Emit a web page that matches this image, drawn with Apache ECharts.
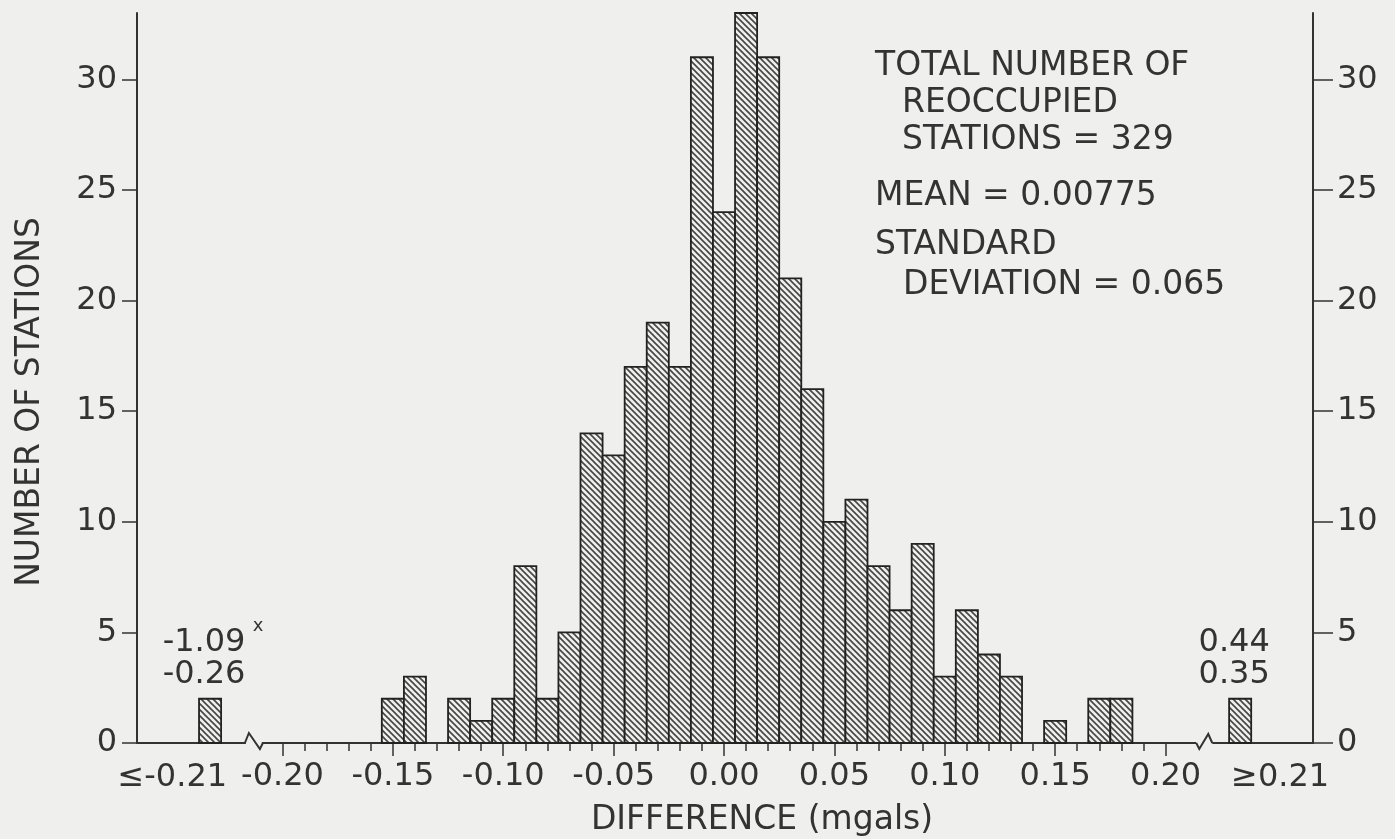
<!DOCTYPE html>
<html>
<head>
<meta charset="utf-8">
<script src="https://cdn.jsdelivr.net/npm/echarts@6.0.0/dist/echarts.min.js"></script>
<style>
  html, body { margin: 0; padding: 0; background: #efefed; }
  #chart { width: 1395px; height: 839px; }
</style>
</head>
<body>
<div id="chart"></div>
<script>
// ---------- data ----------
const bins = [-0.20,-0.19,-0.18,-0.17,-0.16,-0.15,-0.14,-0.13,-0.12,-0.11,-0.10,-0.09,-0.08,-0.07,-0.06,-0.05,-0.04,-0.03,-0.02,-0.01,
  0.00,0.01,0.02,0.03,0.04,0.05,0.06,0.07,0.08,0.09,0.10,0.11,0.12,0.13,0.14,0.15,0.16,0.17,0.18,0.19,0.20];
const counts = [0,0,0,0,0,2,3,0,2,1,2,8,2,5,14,13,17,19,17,31,
  24,33,31,21,16,10,11,8,6,9,3,6,4,3,0,1,0,2,2,0,0];
const outlierLabels = ['≤-0.21', '≥0.21'];
const outlierCounts = [2, 2];
const outlierValues = [['-1.09', '-0.26'], ['0.44', '0.35']];
const xMajorTicks = [-0.20,-0.15,-0.10,-0.05,0.00,0.05,0.10,0.15,0.20];
const xTickLabels = ['-0.20','-0.15','-0.10','-0.05','0.00','0.05','0.10','0.15','0.20'];
const yTicks = [0,5,10,15,20,25,30];
const xAxisTitle = 'DIFFERENCE (mgals)';
const yAxisTitle = 'NUMBER OF STATIONS';
const statsLines = ['TOTAL NUMBER OF', 'REOCCUPIED', 'STATIONS = 329', 'MEAN = 0.00775', 'STANDARD', 'DEVIATION = 0.065'];

// ---------- layout / style ----------
const FONT = '"DejaVu Sans", sans-serif';
const INK = '#333333';
const BG = '#efefed';
const OUTLIER_X = [-0.2328, 0.2338];   // display slots of the open-ended bins
const BREAK_X = [-0.2125, 0.218];      // axis break marks
const BIN_W = 0.01;

function makeHatch() {
  const w = 6, h = 6;
  const c = document.createElement('canvas');
  c.width = w; c.height = h;
  const g = c.getContext('2d');
  g.fillStyle = BG; g.fillRect(0, 0, w, h);
  g.strokeStyle = '#454545'; g.lineWidth = 1.6;
  for (let k = -1; k <= 1; k++) {
    g.beginPath();
    g.moveTo(k * w - w, -h);
    g.lineTo(k * w + 2 * w, 2 * h);
    g.stroke();
  }
  return c;
}
const hatch = { image: makeHatch(), repeat: 'repeat' };

const barData = [];
bins.forEach((b, i) => { if (counts[i] > 0) barData.push([b, counts[i]]); });
const outlierData = OUTLIER_X.map((x, i) => [x, outlierCounts[i], i]);
const breakData = BREAK_X.map((x, i) => [x, 0, i]);

function barRect(api, x, y) {
  const p0 = api.coord([x - BIN_W / 2, y]);
  const p1 = api.coord([x + BIN_W / 2, 0]);
  return { x: p0[0], y: p0[1], width: p1[0] - p0[0], height: p1[1] - p0[1] };
}

const chart = echarts.init(document.getElementById('chart'), null, { renderer: 'canvas' });

const xMin = -0.2659, xMax = 0.2668;
const BAR_STYLE = { fill: hatch, stroke: '#222222', lineWidth: 1.8 };

const option = {
  backgroundColor: BG,
  animation: false,
  grid: { left: 137, right: 82, top: 13, bottom: 96, containLabel: false },
  xAxis: [
    {
      type: 'value', min: xMin, max: xMax,
      axisLine: { show: true, onZero: false, lineStyle: { color: INK, width: 2 } },
      axisTick: { show: true, customValues: bins, length: 8, lineStyle: { color: INK, width: 1.5 } },
      axisLabel: { show: false },
      splitLine: { show: false }
    },
    {
      type: 'value', min: xMin, max: xMax, position: 'bottom',
      axisLine: { show: false, onZero: false },
      axisTick: { show: true, customValues: xMajorTicks, length: 13, lineStyle: { color: INK, width: 1.5 } },
      axisLabel: {
        show: true, customValues: xMajorTicks, margin: 18,
        fontFamily: FONT, fontSize: 32, color: INK,
        formatter: v => {
          const i = xMajorTicks.findIndex(t => Math.abs(t - v) < 1e-9);
          return i >= 0 ? xTickLabels[i] : '';
        }
      },
      splitLine: { show: false }
    }
  ],
  yAxis: [
    {
      type: 'value', min: 0, max: 33, position: 'left',
      axisLine: { show: true, onZero: false, lineStyle: { color: INK, width: 2 } },
      axisTick: { show: true, customValues: yTicks, length: 15, lineStyle: { color: INK, width: 1.5 } },
      axisLabel: { show: true, customValues: yTicks, margin: 20, fontFamily: FONT, fontSize: 32, color: INK },
      splitLine: { show: false }
    },
    {
      type: 'value', min: 0, max: 33, position: 'right',
      axisLine: { show: true, onZero: false, lineStyle: { color: INK, width: 2 } },
      axisTick: { show: true, customValues: yTicks, length: 20, lineStyle: { color: INK, width: 1.5 } },
      axisLabel: { show: true, customValues: yTicks, margin: 24, fontFamily: FONT, fontSize: 32, color: INK },
      splitLine: { show: false }
    }
  ],
  series: [
    {
      type: 'custom', name: 'counts', xAxisIndex: 0, yAxisIndex: 0,
      data: barData, clip: false,
      renderItem: (params, api) => ({
        type: 'rect',
        shape: barRect(api, api.value(0), api.value(1)),
        style: BAR_STYLE
      })
    },
    {
      type: 'custom', name: 'open bins', xAxisIndex: 0, yAxisIndex: 0,
      data: outlierData, clip: false,
      renderItem: (params, api) => {
        const i = api.value(2);
        const r = barRect(api, api.value(0), api.value(1));
        const cx = r.x + r.width / 2;
        const children = [
          { type: 'rect', shape: r, style: BAR_STYLE },
          { type: 'text', x: cx - 6, y: r.y - 56,
            style: { text: outlierValues[i][0], font: '32px ' + FONT, fill: INK, align: 'center', verticalAlign: 'middle' } },
          { type: 'text', x: cx - 6, y: r.y - 24,
            style: { text: outlierValues[i][1], font: '32px ' + FONT, fill: INK, align: 'center', verticalAlign: 'middle' } }
        ];
        const base = api.coord([0, 0])[1];
        if (i === 0) {
          children.push({ type: 'text', x: cx + 48, y: r.y - 72,
            style: { text: 'x', font: '18px ' + FONT, fill: INK, align: 'center', verticalAlign: 'middle' } });
          children.push({ type: 'text', x: r.x + r.width + 6, y: base + 35,
            style: { text: outlierLabels[i], font: '32px ' + FONT, fill: INK, align: 'right', verticalAlign: 'middle' } });
        } else {
          children.push({ type: 'text', x: r.x + 2, y: base + 35,
            style: { text: outlierLabels[i], font: '32px ' + FONT, fill: INK, align: 'left', verticalAlign: 'middle' } });
        }
        return { type: 'group', children };
      }
    },
    {
      type: 'custom', name: 'breaks', xAxisIndex: 0, yAxisIndex: 0,
      data: breakData, clip: false, z: 5,
      renderItem: (params, api) => {
        const i = api.value(2);
        const p = api.coord([api.value(0), 0]);
        const c = p[0], y0 = p[1];
        const pts = i === 0
          ? [[c - 10, y0], [c - 6, y0 - 10], [c + 5, y0 + 6], [c + 8, y0]]
          : [[c - 9, y0], [c - 6, y0 + 6], [c + 3, y0 - 9], [c + 7, y0]];
        return {
          type: 'group',
          children: [
            { type: 'rect', shape: { x: c - 9, y: y0 - 3, width: 16, height: 6 }, style: { fill: BG, stroke: null } },
            { type: 'polyline', shape: { points: pts }, style: { stroke: INK, lineWidth: 2, fill: null } }
          ]
        };
      }
    }
  ],
  graphic: [
    { type: 'text', x: 762, y: 820,
      style: { text: xAxisTitle, font: '33px ' + FONT, fill: INK, align: 'center', verticalAlign: 'middle' } },
    { type: 'text', x: 30, y: 402, rotation: Math.PI / 2,
      style: { text: yAxisTitle, font: '33px ' + FONT, fill: INK, align: 'center', verticalAlign: 'middle' } },
    { type: 'text', x: 875, y: 66, style: { text: statsLines[0], font: '33px ' + FONT, fill: INK, verticalAlign: 'middle' } },
    { type: 'text', x: 902, y: 103, style: { text: statsLines[1], font: '33px ' + FONT, fill: INK, verticalAlign: 'middle' } },
    { type: 'text', x: 902, y: 140, style: { text: statsLines[2], font: '33px ' + FONT, fill: INK, verticalAlign: 'middle' } },
    { type: 'text', x: 875, y: 196, style: { text: statsLines[3], font: '33px ' + FONT, fill: INK, verticalAlign: 'middle' } },
    { type: 'text', x: 875, y: 245, style: { text: statsLines[4], font: '33px ' + FONT, fill: INK, verticalAlign: 'middle' } },
    { type: 'text', x: 903, y: 285, style: { text: statsLines[5], font: '33px ' + FONT, fill: INK, verticalAlign: 'middle' } }
  ]
};
chart.setOption(option);
</script>
</body>
</html>
